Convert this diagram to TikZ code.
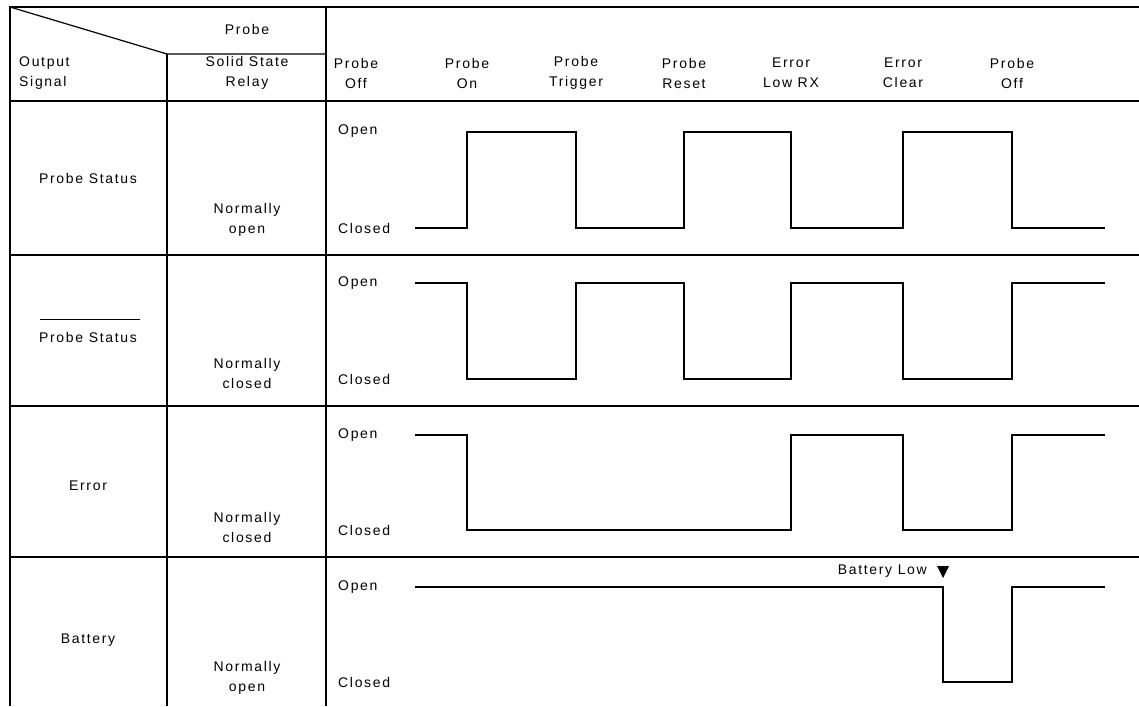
\documentclass[tikz,border=0pt]{standalone}
\usepackage{fontspec}
\setmainfont{Liberation Sans}[LetterSpace=12]
\begin{document}
\begin{tikzpicture}[x=1pt,y=-1pt,
  grid/.style={line width=1.2pt},
  wave/.style={line width=1.8pt, line join=miter},
  lbl/.style={font=\fontsize{14}{20}\selectfont, inner sep=0pt, align=center},
  lvl/.style={font=\fontsize{14}{20}\selectfont, inner sep=0pt, anchor=west}]
\useasboundingbox (0,0) rectangle (1139,706);
% frame
\draw[grid] (10,706) -- (10,7) -- (1139,7);
\draw[grid] (10,7) -- (167,54) -- (326,54);
\draw[grid] (167,54) -- (167,706);
\draw[grid] (326,7) -- (326,706);
\foreach \yy in {101,255,406,557} \draw[grid] (10,\yy) -- (1139,\yy);
% header texts
\node[lbl] (hprobe) at (247,29) {Probe};
\node[lbl, anchor=west, align=left] (hout) at (19,73) {Output\\Signal};
\node[lbl] (hssr) at (247,73) {Solid State\\Relay};
\node[lbl] (e1) at (356,73) {Probe\\Off};
\node[lbl] (e2) at (467,73) {Probe\\On};
\node[lbl] (e3) at (576,73) {Probe\\Trigger};
\node[lbl] (e4) at (684,73) {Probe\\Reset};
\node[lbl] (e5) at (791,73) {Error\\Low RX};
\node[lbl] (e6) at (903,73) {Error\\Clear};
\node[lbl] (e7) at (1012,73) {Probe\\Off};
% row labels
\node[lbl] (r1) at (88,178) {Probe Status};
\node[lbl] (r2) at (88,337) {Probe Status};
\draw[line width=0.9pt] (40,319) -- (140,319);
\node[lbl] (r3) at (88,486) {Error};
\node[lbl] (r4) at (88,640) {Battery};
\node[lbl] (s1) at (247,220) {Normally\\open};
\node[lbl] (s2) at (247,373) {Normally\\closed};
\node[lbl] (s3) at (247,527) {Normally\\closed};
\node[lbl] (s4) at (247,678) {Normally\\open};
% levels
\foreach \o/\c/\n in {131/228/1,283/379/2,435/530/3,587/682/4}{
  \node[lvl] (open\n) at (338,\o) {Open};
  \node[lvl] (closed\n) at (338,\c) {Closed};
}
% waveforms
\draw[wave] (415,228) -- (467,228) -- (467,132) -- (576,132) -- (576,228) -- (684,228) -- (684,132) -- (791,132) -- (791,228) -- (903,228) -- (903,132) -- (1012,132) -- (1012,228) -- (1105,228);
\draw[wave] (415,283) -- (467,283) -- (467,379) -- (576,379) -- (576,283) -- (684,283) -- (684,379) -- (791,379) -- (791,283) -- (903,283) -- (903,379) -- (1012,379) -- (1012,283) -- (1105,283);
\draw[wave] (415,435) -- (467,435) -- (467,530) -- (791,530) -- (791,435) -- (903,435) -- (903,530) -- (1012,530) -- (1012,435) -- (1105,435);
\draw[wave] (415,587) -- (943,587) -- (943,682) -- (1012,682) -- (1012,587) -- (1105,587);
% battery low marker
\node[lvl, anchor=east] (blow) at (927,571) {Battery Low};
\fill (937,566) -- (949,566) -- (943,578) -- cycle;
\end{tikzpicture}
\end{document}
